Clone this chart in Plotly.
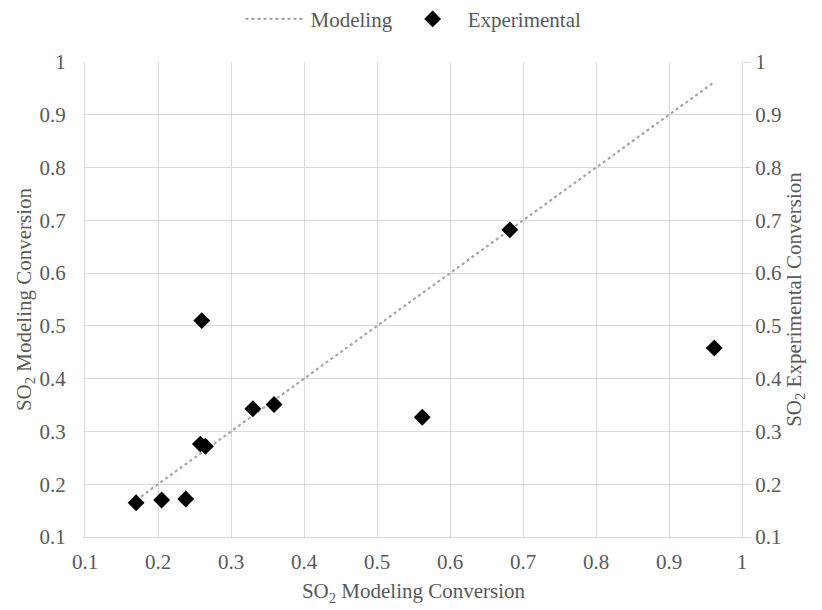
import plotly.graph_objects as go

model_x = [0.17, 0.205, 0.238, 0.258, 0.26, 0.265, 0.33, 0.359, 0.562, 0.682, 0.962]
exp_y = [0.165, 0.17, 0.172, 0.276, 0.51, 0.272, 0.343, 0.351, 0.327, 0.682, 0.458]
tick_vals = [0.1, 0.2, 0.3, 0.4, 0.5, 0.6, 0.7, 0.8, 0.9, 1.0]
tick_text = ["0.1", "0.2", "0.3", "0.4", "0.5", "0.6", "0.7", "0.8", "0.9", "1"]

FONT = "Liberation Serif"
TXT = "#595959"
GRID = "#d9d9d9"
FS = 21

fig = go.Figure()
fig.add_trace(go.Scatter(
    x=model_x, y=model_x, name="Modeling", mode="lines",
    line=dict(color="#a6a6a6", width=2.2, dash="dot"), yaxis="y"))
fig.add_trace(go.Scatter(
    x=model_x, y=exp_y, name="Experimental", mode="markers",
    marker=dict(symbol="diamond", size=13, color="black"), yaxis="y2"))

axis_common = dict(range=[0.1, 1.0], tickvals=tick_vals, ticktext=tick_text,
                   showgrid=True, gridcolor=GRID, gridwidth=1, zeroline=False,
                   automargin=False,
                   tickfont=dict(family=FONT, size=FS, color=TXT))

fig.update_layout(
    width=822, height=610,
    margin=dict(l=77, r=88, t=54, b=81, autoexpand=False),
    paper_bgcolor="white", plot_bgcolor="white",
    font=dict(family=FONT, color=TXT, size=FS),
    showlegend=True,
    legend=dict(orientation="h", x=0.5, xanchor="center", y=1.09, yanchor="middle",
                font=dict(family=FONT, size=FS, color=TXT), itemwidth=60,
                tracegroupgap=0),
    xaxis=dict(**axis_common, showline=True, linecolor=GRID, ticks="",
               ticklabelstandoff=6,
               title=dict(text="SO<sub>2</sub> Modeling Conversion",
                          font=dict(family=FONT, size=FS, color=TXT), standoff=10)),
    yaxis=dict(**axis_common, showline=True, linecolor=GRID, ticks="",
               ticklabelstandoff=14,
               title=dict(text="SO<sub>2</sub> Modeling Conversion",
                          font=dict(family=FONT, size=FS, color=TXT), standoff=2)),
    yaxis2=dict(**axis_common, overlaying="y", side="right", showline=True,
                linecolor=GRID, ticks="outside", ticklen=8, tickcolor=GRID,
                title=dict(text="SO<sub>2</sub> Experimental Conversion",
                           font=dict(family=FONT, size=FS, color=TXT), standoff=4)),
)
fig.update_layout(yaxis2_showgrid=False)

fig.write_html("out.html")
